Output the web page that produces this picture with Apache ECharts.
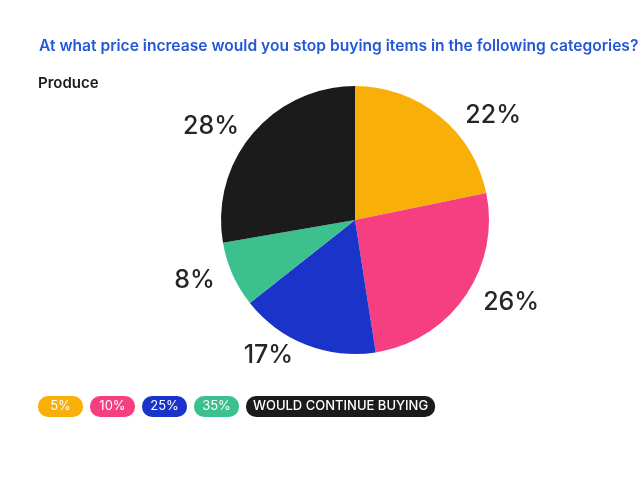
<!DOCTYPE html>
<html>
<head>
<meta charset="utf-8">
<script src="https://cdn.jsdelivr.net/npm/echarts@6/dist/echarts.min.js"></script>
<style>
  html, body { margin: 0; padding: 0; background: #fff; }
  #chart { width: 642px; height: 477px; }
</style>
</head>
<body>
<div id="chart"></div>
<script>
var chart = echarts.init(document.getElementById('chart'));

var categories = ['5%', '10%', '25%', '35%', 'WOULD CONTINUE BUYING'];
var values = [22, 26, 17, 8, 28];
var colors = ['#F8AF08', '#F53F80', '#1A33C8', '#3CC08E', '#1B1B1B'];
// label line [length, length2] per slice, tuned so the labels sit like the original
var labelLines = [[1, 20], [11, 4], [11, 4], [14, 0], [11, 0]];

var rich = {};
var keys = ['a', 'b', 'c', 'd', 'e'];
categories.forEach(function (c, i) {
  rich[keys[i]] = {
    backgroundColor: colors[i],
    color: '#fff',
    borderRadius: 10,
    fontSize: 13,
    fontFamily: 'Inter',
    fontWeight: i === 4 ? 500 : 400,
    padding: i === 4 ? [4, 7] : [4, 0],
    width: i === 4 ? undefined : 45,
    align: 'center'
  };
});

var option = {
  title: [{
    text: 'At what price increase would you stop buying items in the following categories?',
    left: 34,
    top: 33,
    textStyle: { color: '#2457D6', fontSize: 15.6, fontWeight: 600, fontFamily: 'Inter' }
  }, {
    text: 'Produce',
    left: 33,
    top: 71,
    textStyle: { color: '#1a1a1a', fontSize: 15, fontWeight: 600, fontFamily: 'Inter' }
  }],
  legend: {
    left: 28,
    top: 391,
    icon: 'none',
    itemWidth: 0,
    itemHeight: 0,
    itemGap: 2,
    selectedMode: false,
    data: categories,
    formatter: function (name) {
      var i = categories.indexOf(name);
      return '{' + keys[i] + '|' + name + '}';
    },
    textStyle: { rich: rich }
  },
  series: [{
    type: 'pie',
    center: [355, 220],
    radius: 134,
    startAngle: 90,
    clockwise: true,
    data: categories.map(function (c, i) {
      return {
        name: c,
        value: values[i],
        itemStyle: { color: colors[i] },
        labelLine: { length: labelLines[i][0], length2: labelLines[i][1] }
      };
    }),
    label: {
      show: true,
      position: 'outside',
      formatter: '{c}%',
      fontSize: 25,
      fontWeight: 500,
      fontFamily: 'Inter',
      color: '#262626'
    },
    labelLine: { show: false },
    emphasis: { disabled: true }
  }]
};

chart.setOption(option);
</script>
</body>
</html>
